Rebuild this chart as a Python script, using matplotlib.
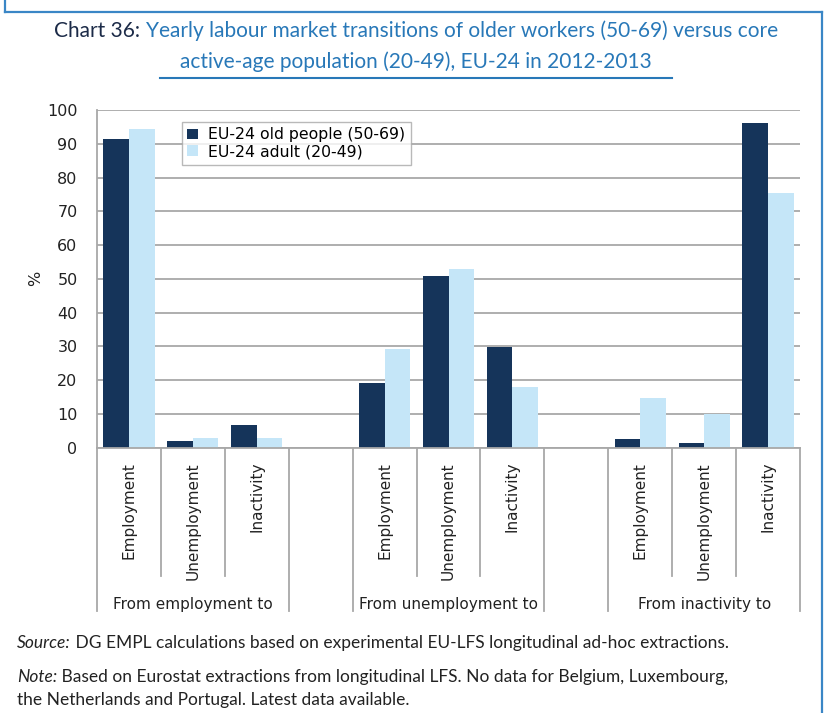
import matplotlib
matplotlib.use("Agg")
import matplotlib.pyplot as plt
from matplotlib.lines import Line2D

# transitions between labour market states, shares in %
groups = ["From employment to", "From unemployment to", "From inactivity to"]
states = ["Employment", "Unemployment", "Inactivity"]
old_people = [91.4, 2.0, 6.7, 19.2, 50.8, 29.8, 2.6, 1.4, 96.2]
adults = [94.4, 2.9, 2.9, 29.2, 52.9, 18.0, 14.7, 10.0, 75.4]
series_names = ["EU-24 old people (50-69)", "EU-24 adult (20-49)"]
yticks = list(range(0, 101, 10))

dark = "#15345a"
light = "#c5e6f8"
blue = "#2878b8"
navy = "#1c2b48"
grey = "#a8a8a8"
narrow = ["Lato", "DejaVu Sans"]

plt.rcParams["font.family"] = ["DejaVu Sans"]

fig = plt.figure(figsize=(8.26, 7.13), dpi=100)
W, H = 826, 713
ax = fig.add_axes([97 / W, 1 - 447.7 / H, 703 / W, 337.7 / H])

# three slots per group, with an empty slot between groups
slots = [g * 4 + i for g in range(len(groups)) for i in range(len(states))]
bw = 0.4
ax.bar([s - bw / 2 for s in slots], old_people, width=bw, color=dark, label=series_names[0], zorder=2)
ax.bar([s + bw / 2 for s in slots], adults, width=bw, color=light, label=series_names[1], zorder=2)

ax.set_xlim(-0.5, 10.5)
ax.set_ylim(0, 100)
ax.set_yticks(yticks)
ax.tick_params(axis="y", length=0, pad=14, labelsize=11.5, colors="#222222")
ax.set_xticks([])
ax.yaxis.grid(True, color=grey, lw=1.3, zorder=0)
ax.set_axisbelow(True)
for side in ["top", "right"]:
    ax.spines[side].set_visible(False)
for side in ["left", "bottom"]:
    ax.spines[side].set_color(grey)
    ax.spines[side].set_linewidth(1.3)
ax.set_ylabel("%", fontsize=11.5, color="#222222")
ax.yaxis.set_label_coords((43 - 97) / 703, 0.5)

# two-level category axis below the plot
tr = ax.get_xaxis_transform()
short_y = -(576 - 447.7) / 337.7
long_y = -(611 - 447.7) / 337.7
for b in range(12):
    edge = b - 0.5
    y_end = long_y if b in (0, 3, 4, 7, 8, 11) else short_y
    ax.add_line(Line2D([edge, edge], [0, y_end], transform=tr, color=grey,
                       lw=1.3, clip_on=False))
for g, name in enumerate(groups):
    for i, st in enumerate(states):
        ax.text(g * 4 + i, -0.042, st, rotation=90, ha="center", va="top",
                fontsize=11, transform=tr, color="#222222")
    ax.text(g * 4 + 1, long_y + 0.005, name, ha="center", va="baseline",
            fontsize=11, transform=tr, color="#222222")

ax.legend(loc="upper left", bbox_to_anchor=((182 - 97) / 703, 1 - (122 - 110) / 337.7),
          borderaxespad=0, fontsize=11.3, frameon=True, fancybox=False,
          edgecolor=grey, handlelength=0.7, handleheight=0.7, handletextpad=0.6,
          labelspacing=0.1, borderpad=0.35)

# frame around the whole chart
fc = "#3a86c6"
for xs, ys in [([5, 5], [0, 12]), ([5, 822], [12, 12]), ([822, 822], [12, 713])]:
    fig.add_artist(Line2D([x / W for x in xs], [1 - y / H for y in ys], color=fc, lw=1.6))

renderer = fig.canvas.get_renderer()


def text_width(s, **kw):
    t = fig.text(0, 0, s, **kw)
    w = t.get_window_extent(renderer).width
    t.remove()
    return w


# title: first words dark, rest blue
tkw = dict(fontsize=15, family=narrow)
pre = "Chart 36: "
rest = "Yearly labour market transitions of older workers (50-69) versus core"
w1 = text_width(pre, **tkw)
w2 = text_width(rest, **tkw)
x0 = 416 - (w1 + w2) / 2
fig.text(x0 / W, 1 - 31 / H, pre, color=navy, va="center", **tkw)
fig.text((x0 + w1) / W, 1 - 31 / H, rest, color=blue, va="center", **tkw)
fig.text(416 / W, 1 - 62 / H, "active-age population (20-49), EU-24 in 2012-2013",
         color=blue, ha="center", va="center", **tkw)
fig.add_artist(Line2D([160 / W, 672 / W], [1 - 78 / H] * 2, color=blue, lw=1.5))

# source and note
skw = dict(fontsize=12.5, family=narrow, color="#222222", va="center")
notes = [("Source:", " DG EMPL calculations based on experimental EU-LFS longitudinal ad-hoc extractions.", 643),
         ("Note:", " Based on Eurostat extractions from longitudinal LFS. No data for Belgium, Luxembourg,", 677)]
for lead, body, y in notes:
    wl = text_width(lead, style="italic", **skw)
    fig.text(17 / W, 1 - y / H, lead, style="italic", **skw)
    fig.text((17 + wl) / W, 1 - y / H, body, **skw)
fig.text(17 / W, 1 - 700 / H, "the Netherlands and Portugal. Latest data available.", **skw)

fig.savefig("out.png", dpi=100)
